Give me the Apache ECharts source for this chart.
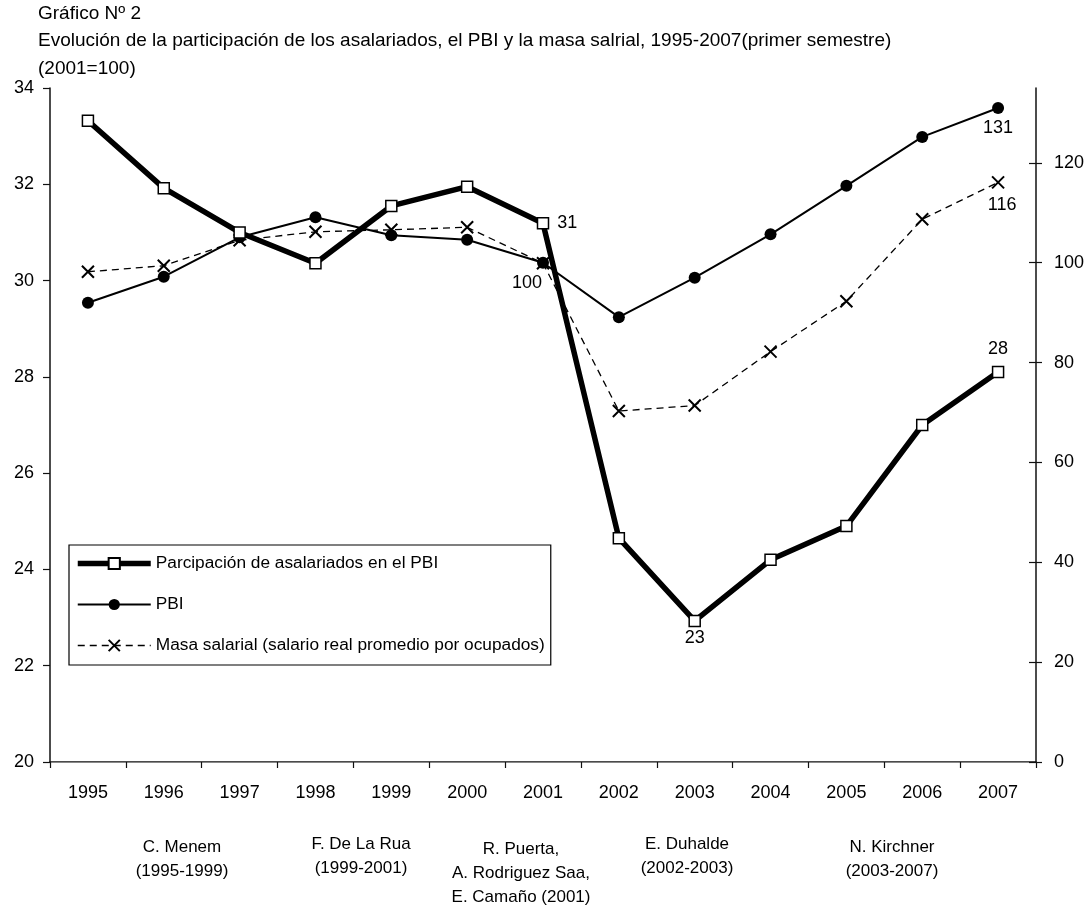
<!DOCTYPE html>
<html>
<head>
<meta charset="utf-8">
<script src="https://cdn.jsdelivr.net/npm/echarts@6/dist/echarts.min.js"></script>
<style>
html,body{margin:0;padding:0;background:#fff;}
#chart{width:1088px;height:909px;}
</style>
</head>
<body>
<div id="chart"></div>
<script>
// ---- data ----
const categories = ['1995','1996','1997','1998','1999','2000','2001','2002','2003','2004','2005','2006','2007'];
const participacion = [33.32, 31.92, 31.0, 30.36, 31.55, 31.95, 31.19, 24.65, 22.93, 24.2, 24.9, 27.0, 28.1];
const pbi = [92.0, 97.2, 105.1, 109.1, 105.5, 104.6, 100.0, 89.1, 97.0, 105.7, 115.4, 125.2, 131.0];
const masa = [98.2, 99.4, 104.5, 106.2, 106.6, 107.1, 99.9, 70.3, 71.4, 82.2, 92.3, 108.7, 116.1];
const leftTicks = [20, 22, 24, 26, 28, 30, 32, 34];
const rightTicks = [0, 20, 40, 60, 80, 100, 120];
const seriesNames = ['Parcipación de asalariados en el PBI', 'PBI', 'Masa salarial (salario real promedio por ocupados)'];
const titleLines = ['Gráfico Nº 2', 'Evolución de la participación de los asalariados, el PBI y la masa salrial, 1995-2007(primer semestre)', '(2001=100)'];
const presidents = [
  'C. Menem\n(1995-1999)',
  'F. De La Rua\n(1999-2001)',
  'R. Puerta,\nA. Rodriguez Saa,\nE. Camaño (2001)',
  'E. Duhalde\n(2002-2003)',
  'N. Kirchner\n(2003-2007)'
];

// ---- styles / label placement (kept apart from values) ----
const FONT = 'Liberation Sans, Arial, sans-serif';
const partLabels = {6: {position: 'right', distance: 8}, 8: {position: 'bottom', distance: 2}, 12: {position: 'top', distance: 8}};
const pbiLabels = {12: {position: 'bottom', distance: 5}};
const masaLabels = {6: {position: 'bottom', distance: 4, offset: [-16, 0]}, 12: {position: 'bottom', distance: 7, offset: [4, 0]}};
const presPos = [[182, 835], [361, 832], [521, 837], [687, 832], [892, 835]];
const titlePos = [[38, 15], [38, 42], [38, 70]];
const lineWidths = [5.5, 2, 1.3];

function withLabels(values, labels) {
  return values.map((v, i) => labels[i] ? {
    value: v,
    label: Object.assign({show: true, formatter: p => String(Math.round(p.value)), fontSize: 18, fontFamily: FONT, color: '#000'}, labels[i])
  } : v);
}

const chart = echarts.init(document.getElementById('chart'), null, {renderer: 'canvas'});

const graphics = [];
titleLines.forEach((t, i) => graphics.push({
  type: 'text', left: titlePos[i][0], top: titlePos[i][1] - 11, silent: true,
  style: {text: t, fontSize: 19, fontFamily: FONT, fill: '#000'}
}));
presidents.forEach((t, i) => graphics.push({
  type: 'text', x: presPos[i][0], y: presPos[i][1], silent: true,
  style: {text: t, fontSize: 17, fontFamily: FONT, fill: '#000', align: 'center', verticalAlign: 'top', lineHeight: 24}
}));

const xPath = 'path://M0,0L10,10M10,0L0,10';

chart.setOption({
  animation: false,
  backgroundColor: '#fff',
  textStyle: {fontFamily: FONT, color: '#000'},
  grid: {left: 50, right: 52, top: 88, bottom: 147, containLabel: false},
  legend: {
    orient: 'vertical', left: 69, top: 545,
    padding: [10, 6, 11, 6], itemGap: 24, itemWidth: 73, itemHeight: 14,
    backgroundColor: '#fff', borderColor: '#000', borderWidth: 1.2, borderRadius: 0,
    textStyle: {fontSize: 17.3, fontFamily: FONT, color: '#000'},
    data: [
      {name: seriesNames[0], lineStyle: {width: lineWidths[0], color: '#000', type: 'solid'}},
      {name: seriesNames[1], lineStyle: {width: lineWidths[1], color: '#000', type: 'solid'}},
      {name: seriesNames[2], lineStyle: {width: lineWidths[2], color: '#000', type: [7, 5]}}
    ]
  },
  xAxis: [{
    type: 'category', data: categories, boundaryGap: true, position: 'bottom',
    axisLine: {show: true, lineStyle: {color: '#111', width: 1.5}},
    axisTick: {show: true, inside: false, length: 6, alignWithLabel: false, interval: 0, lineStyle: {color: '#111', width: 1.2}},
    axisLabel: {show: true, interval: 0, margin: 22, fontSize: 18, fontFamily: FONT, color: '#000'},
    splitLine: {show: false}
  }, {
    type: 'category', data: categories, boundaryGap: true, position: 'top',
    axisLine: {show: true, lineStyle: {color: '#888', width: 1.2}},
    axisTick: {show: false}, axisLabel: {show: false}, splitLine: {show: false}
  }],
  yAxis: [{
    type: 'value', position: 'left', min: 20, max: 34, interval: 2,
    axisLine: {show: true, lineStyle: {color: '#111', width: 1.5}},
    axisTick: {show: true, inside: false, length: 7, lineStyle: {color: '#111', width: 1.2}},
    axisLabel: {show: true, margin: 16, fontSize: 18, fontFamily: FONT, color: '#000', customValues: leftTicks},
    splitLine: {show: false}
  }, {
    type: 'value', position: 'right', min: 0, max: 135, interval: 20,
    axisLine: {show: true, lineStyle: {color: '#111', width: 1.5}},
    axisTick: {show: true, inside: false, length: 6, customValues: rightTicks, lineStyle: {color: '#111', width: 1.2}},
    axisLabel: {show: true, margin: 18, fontSize: 18, fontFamily: FONT, color: '#000', customValues: rightTicks},
    splitLine: {show: false}
  }, {
    type: 'value', position: 'right', min: 0, max: 135, interval: 20,
    axisLine: {show: false},
    axisTick: {show: true, inside: true, length: 7, customValues: rightTicks, lineStyle: {color: '#111', width: 1.2}},
    axisLabel: {show: false},
    splitLine: {show: false}
  }],
  series: [{
    name: seriesNames[1], type: 'line', yAxisIndex: 1, z: 3,
    data: withLabels(pbi, pbiLabels),
    symbol: 'circle', symbolSize: 12, showAllSymbol: true,
    lineStyle: {color: '#000', width: lineWidths[1]},
    itemStyle: {color: '#000', borderColor: '#000', borderWidth: 0}
  }, {
    name: seriesNames[2], type: 'line', yAxisIndex: 1, z: 2,
    data: withLabels(masa, masaLabels),
    symbol: xPath, symbolSize: 12, showAllSymbol: true,
    lineStyle: {color: '#000', width: lineWidths[2], type: [7, 5]},
    itemStyle: {color: '#000', borderColor: '#000', borderWidth: 2}
  }, {
    name: seriesNames[0], type: 'line', yAxisIndex: 0, z: 4,
    data: withLabels(participacion, partLabels),
    symbol: 'rect', symbolSize: 11, showAllSymbol: true,
    lineStyle: {color: '#000', width: lineWidths[0]},
    itemStyle: {color: '#fff', borderColor: '#000', borderWidth: 1.5}
  }],
  graphic: graphics
});
</script>
</body>
</html>
